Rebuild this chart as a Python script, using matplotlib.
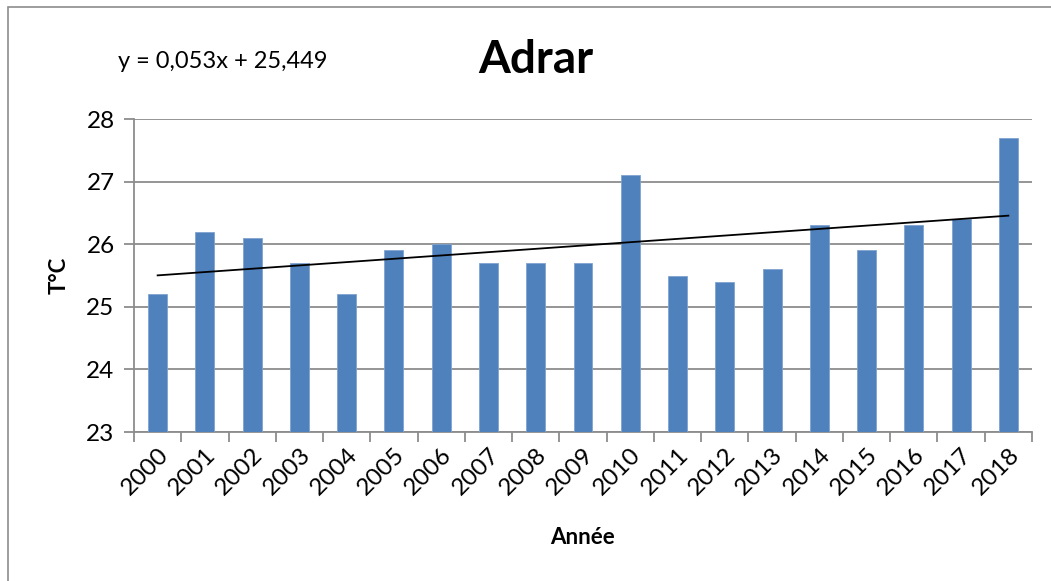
import matplotlib
matplotlib.use("Agg")
import matplotlib.pyplot as plt
import numpy as np
from matplotlib.patches import Rectangle

years = ["2000", "2001", "2002", "2003", "2004", "2005", "2006", "2007", "2008", "2009",
         "2010", "2011", "2012", "2013", "2014", "2015", "2016", "2017", "2018"]
temps = [25.2, 26.2, 26.1, 25.7, 25.2, 25.9, 26.0, 25.7, 25.7, 25.7,
         27.1, 25.5, 25.4, 25.6, 26.3, 25.9, 26.3, 26.4, 27.7]
slope = 0.053
intercept = 25.449
y_ticks = [23, 24, 25, 26, 27, 28]

plt.rcParams['font.family'] = ['Lato', 'DejaVu Sans']

fig = plt.figure(figsize=(10.51, 5.81), dpi=100)
fig.patch.set_facecolor("white")
# outer chart border
fig.add_artist(Rectangle((8/1051, -0.1), 1.2, 1 - 7/581 + 0.1, transform=fig.transFigure,
                         fill=False, edgecolor="#8c8c8c", linewidth=1.2))

ax = fig.add_axes([134/1051, 1 - 432/581, (1032 - 134)/1051, (432 - 119)/581])
x = np.arange(len(years))
ax.bar(x, np.array(temps) - 23, bottom=23, width=0.4, color="#4F81BD",
       edgecolor="#7fa3cf", linewidth=0.6, zorder=3)

# linear trend line
xt = np.arange(1, len(years) + 1)
ax.plot(x, slope * xt + intercept, color="black", linewidth=1.3, zorder=4)

ax.set_xlim(-0.5, len(years) - 0.5)
ax.set_ylim(23, 28)
ax.set_yticks(y_ticks)
ax.set_yticklabels([str(v) for v in y_ticks], fontsize=17.5)
ax.yaxis.grid(True, color="#8c8c8c", linewidth=1.3, zorder=0)
ax.set_axisbelow(True)

ax.set_xticks(x)
ax.set_xticklabels(years, rotation=45, ha="right", va="top", rotation_mode="anchor", fontsize=17.5)
ax.set_xticks(np.arange(-0.5, len(years)), minor=True)
ax.tick_params(axis="x", which="major", length=0, pad=9)
ax.tick_params(axis="x", which="minor", length=7, color="#8c8c8c", width=1.3)
ax.tick_params(axis="y", length=7, color="#8c8c8c", width=1.3, pad=7)

for s in ["top", "right"]:
    ax.spines[s].set_visible(False)
for s in ["left", "bottom"]:
    ax.spines[s].set_color("#8c8c8c")
    ax.spines[s].set_linewidth(1.3)

ax.set_xlabel("Année", fontsize=16, fontweight="bold", labelpad=20)
ax.set_ylabel("T°C", fontsize=16, fontweight="bold", labelpad=12)

fig.text(536/1051, 1 - 60/581, "Adrar", fontsize=33, fontweight="bold", ha="center", va="center")
fig.text(118/1051, 1 - 61/581, "y = 0,053x + 25,449", fontsize=17, ha="left", va="center")

fig.savefig("out.png", dpi=100)
